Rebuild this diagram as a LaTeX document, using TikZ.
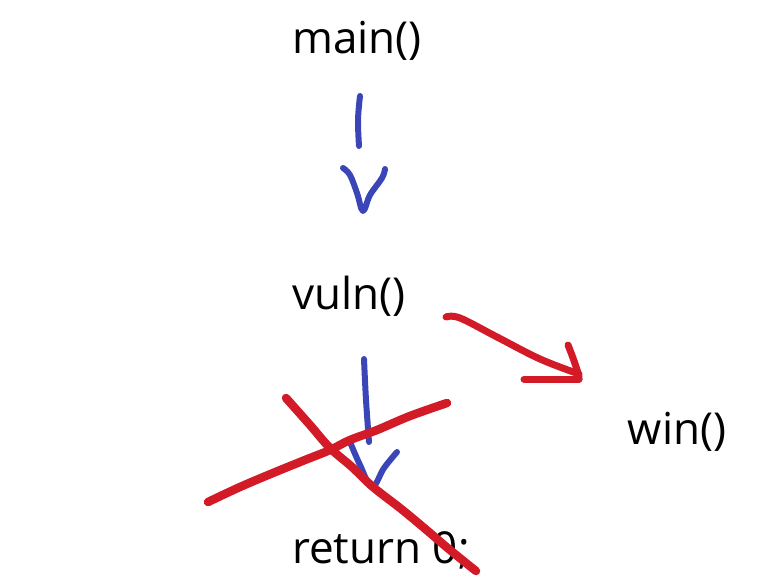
\documentclass[tikz,border=0pt]{standalone}
\usepackage{fontspec}
\setmainfont{Open Sans}
\definecolor{penblue}{HTML}{3A46B8}
\definecolor{penred}{HTML}{D31B27}
\begin{document}
\begin{tikzpicture}[x=1pt,y=-1pt,
  lbl/.style={anchor=base,inner sep=0pt,font=\fontsize{44}{52}\selectfont},
  bluepen/.style={draw=penblue,line width=6pt,line cap=round,line join=round},
  redpen/.style={draw=penred,line width=7pt,line cap=round,line join=round},
  thickred/.style={draw=penred,line width=8.5pt,line cap=round,line join=round}]
\useasboundingbox (0,0) rectangle (778,583);
\node[lbl] (main) at (357,54) {main()};
\node[lbl] (vuln) at (349,309) {vuln()};
\node[lbl] (win) at (677,444) {win()};
\node[lbl] (ret) at (381,563) {return 0;};
% blue arrow main -> vuln
\draw[bluepen] plot[smooth,tension=0.6] coordinates {(360,96) (358,120) (359,146)};
\draw[bluepen] plot[smooth,tension=0.6] coordinates {(343,168) (350,175) (357,193) (363,211) (370,195) (382,178) (385,169)};
% blue arrow vuln -> return
\draw[bluepen] plot[smooth,tension=0.6] coordinates {(364,359) (366,400) (369,442)};
\draw[bluepen] plot[smooth,tension=0.6] coordinates {(350,442) (360,465) (372,487) (384,468) (397,452)};
% red arrow vuln -> win
\draw[redpen] plot[smooth,tension=0.6] coordinates {(446,317) (460,318) (497,337) (540,359) (579,374)};
\draw[redpen] (524,379) -- (579,379);
\draw[redpen] plot[smooth,tension=0.6] coordinates {(568,345) (573,358) (578,373) (579,379)};
% red cross
\draw[thickred] plot[smooth,tension=0.6] coordinates {(286,398) (310,425) (330,448) (352,467) (373,487) (400,508) (423,527) (450,550) (476,571)};
\draw[thickred] plot[smooth,tension=0.6] coordinates {(208,502) (240,487) (273,473) (305,460) (330,450) (350,440) (377,430) (410,416) (447,403)};
\end{tikzpicture}
\end{document}
